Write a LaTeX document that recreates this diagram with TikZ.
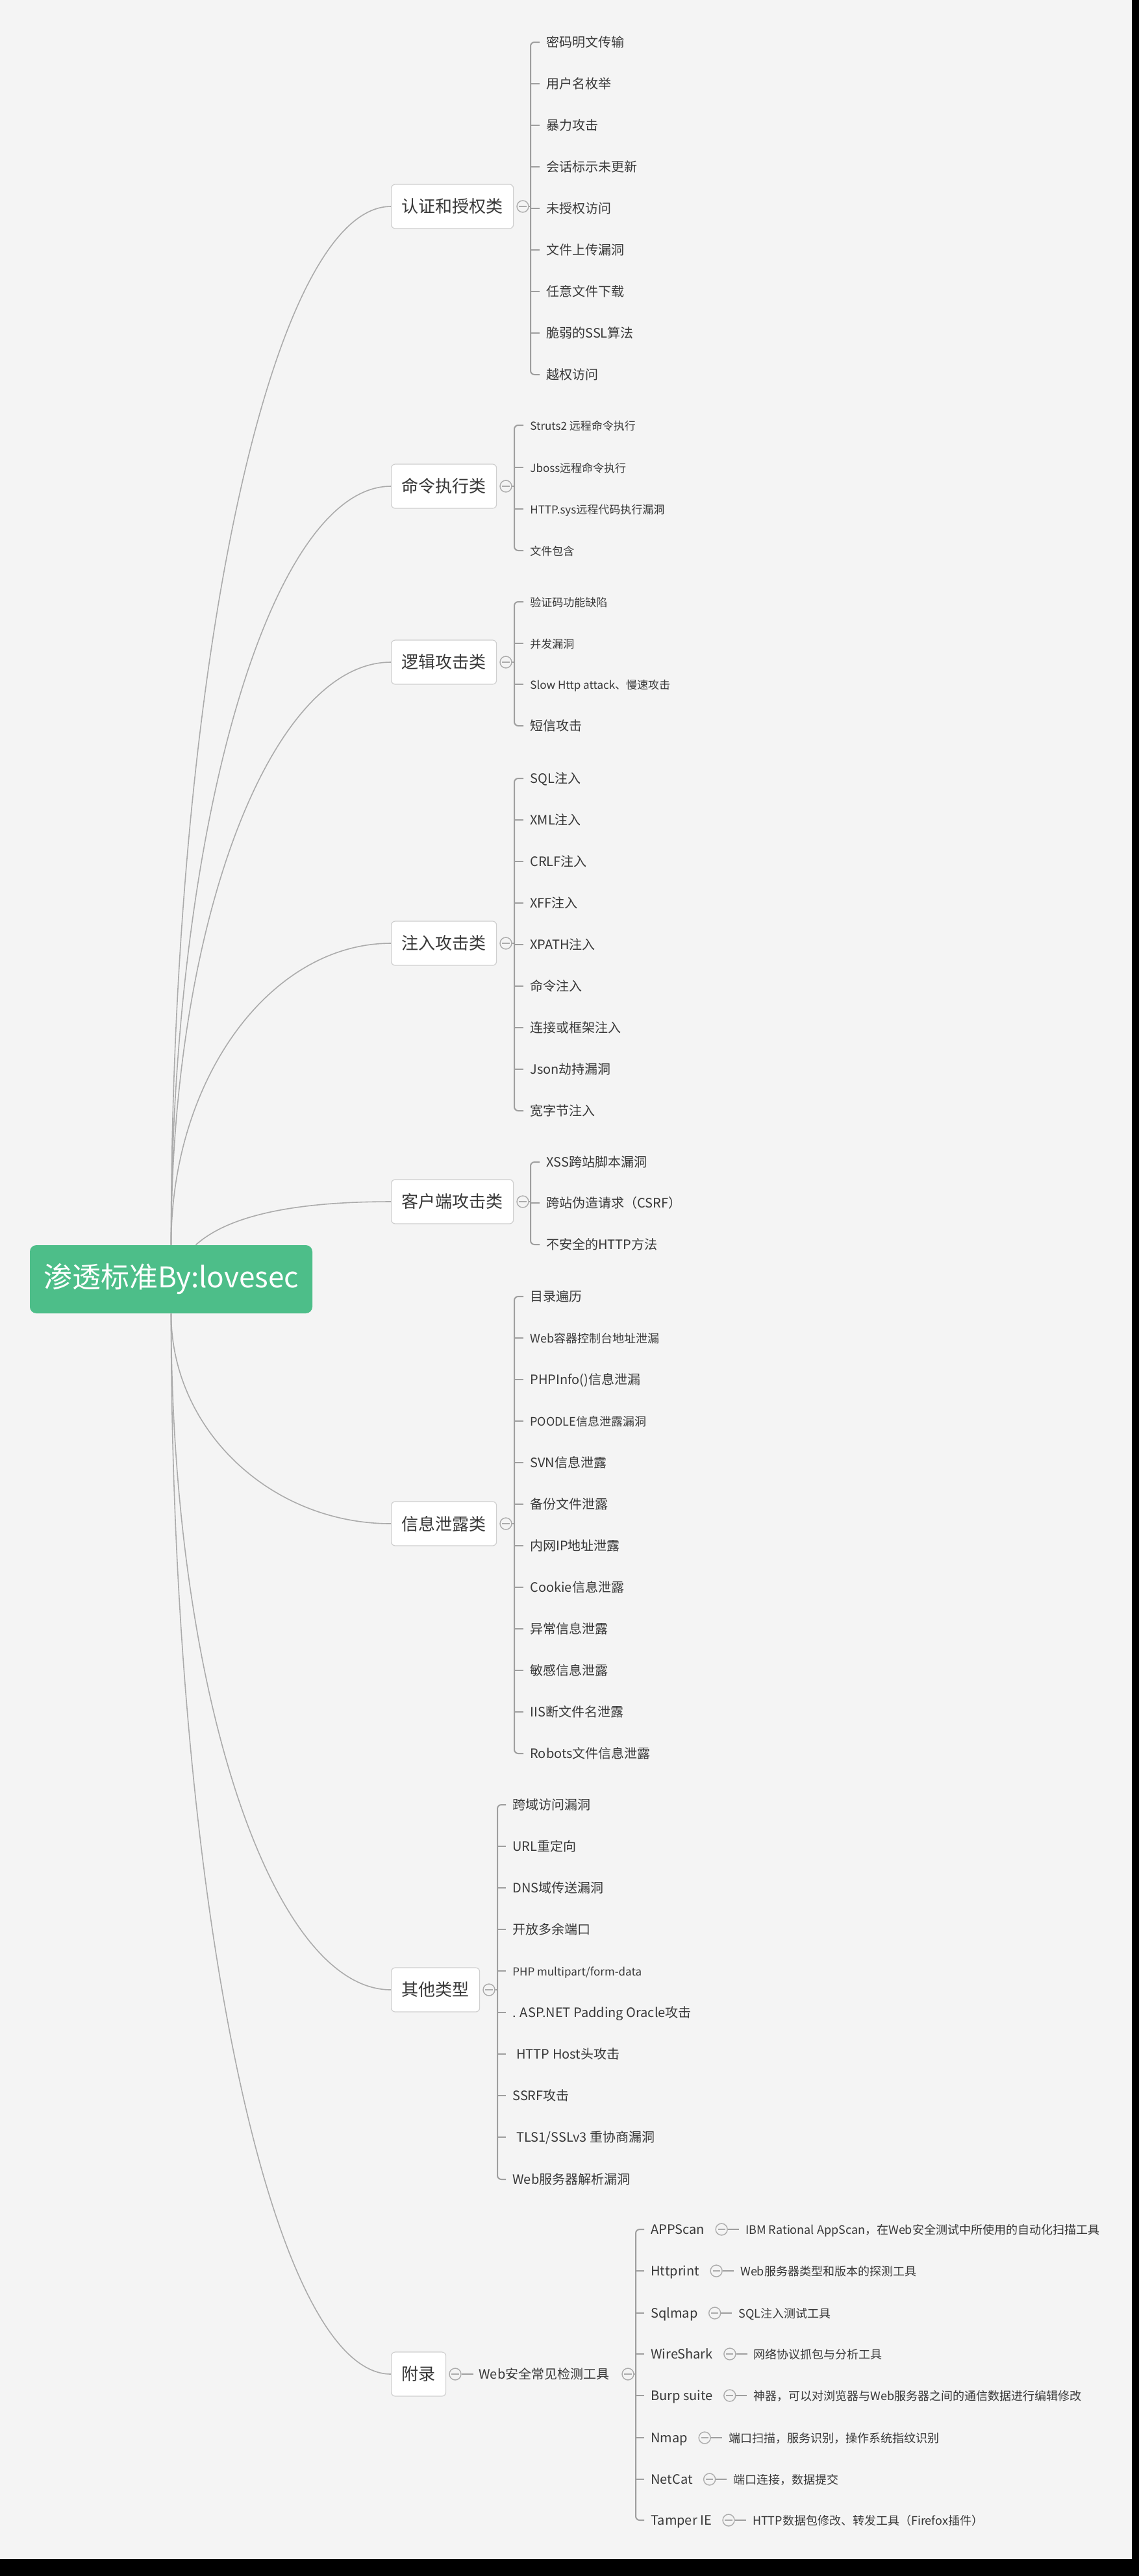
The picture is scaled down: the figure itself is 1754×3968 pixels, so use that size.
\documentclass[tikz,border=0pt]{standalone}
\usepackage{fontspec}
\newfontfamily\cjk{Noto Sans CJK SC}
\usetikzlibrary{positioning}

\definecolor{bggray}{HTML}{F4F4F4}
\definecolor{rootgreen}{HTML}{4DBE89}
\definecolor{linegray}{HTML}{ABABAB}
\definecolor{bargray}{HTML}{9E9E9E}
\definecolor{boxgray}{HTML}{CFCFCF}
\definecolor{textgray}{HTML}{383838}

\begin{document}
\begin{tikzpicture}[
    x=0.5pt, y=-0.5pt,
    rootbox/.style={rectangle, rounded corners=5pt, fill=rootgreen, text=white, minimum width=217.5pt, minimum height=52.5pt, font=\cjk\fontsize{22}{22}\selectfont},
    cat/.style={draw=boxgray, fill=white, rounded corners=3pt, line width=0.6pt, anchor=west, inner xsep=8pt, inner ysep=0pt, minimum height=34pt, text=textgray, font=\cjk\fontsize{13}{13}\selectfont},
    fold/.style={circle, draw=linegray, line width=0.7pt, minimum size=9pt, inner sep=0pt, path picture={\draw[linegray, line width=0.7pt] ([xshift=-2.8pt]path picture bounding box.center) -- ([xshift=2.8pt]path picture bounding box.center);}},
    leaf/.style={anchor=west, inner sep=0pt, text height=8.5pt, text depth=1pt, text=textgray, font=\cjk\fontsize{10}{10}\selectfont},
    smallleaf/.style={leaf, font=\cjk\fontsize{8.5}{8.5}\selectfont},
    midleaf/.style={leaf, font=\cjk\fontsize{9}{9}\selectfont},
    branch/.style={draw=linegray, line width=0.8pt},
    bracket/.style={draw=bargray, line width=1pt, rounded corners=3pt}
]

% Page
\useasboundingbox (0,0) rectangle (1754,3968);
\fill[black] (0,0) rectangle (1754,3968);
\fill[bggray] (0,0) rectangle (1743,3942);

% Root
\node[rootbox] (root) at (263.5,1970.5) {渗透标准By:lovesec};

% Categories
\node[cat] (auth) at (602,318) {认证和授权类};
\node[cat] (cmd) at (602,749) {命令执行类};
\node[cat] (logic) at (602,1020) {逻辑攻击类};
\node[cat] (inject) at (602,1453) {注入攻击类};
\node[cat] (client) at (602,1851) {客户端攻击类};
\node[cat] (leak) at (602,2347) {信息泄露类};
\node[cat] (other) at (602,3065) {其他类型};
\node[cat] (appendix) at (602,3657) {附录};

% Fold markers and bars
\node[fold] (authfold) at (805,318) {};
\node[fold] (cmdfold) at (779,749) {};
\node[fold] (logicfold) at (779,1020) {};
\node[fold] (injectfold) at (779,1453) {};
\node[fold] (clientfold) at (805,1851) {};
\node[fold] (leakfold) at (779,2347) {};
\node[fold] (otherfold) at (753,3065) {};
\node[fold] (appendixfold) at (701,3657) {};
\coordinate (authbar) at (817,318);
\coordinate (cmdbar) at (792,749);
\coordinate (logicbar) at (792,1020);
\coordinate (injectbar) at (792,1453);
\coordinate (clientbar) at (817,1851);
\coordinate (leakbar) at (792,2347);
\coordinate (otherbar) at (766,3065);

% Branches
\draw[branch] (root.north) .. controls +(0,-883) and +(-185,0) .. (auth.west);
\draw[branch] (root.north) .. controls +(0,-645) and +(-185,0) .. (cmd.west);
\draw[branch] (root.north) .. controls +(0,-496) and +(-185,0) .. (logic.west);
\draw[branch] (root.north) .. controls +(0,-257) and +(-185,0) .. (inject.west);
\draw[branch] ([xshift=19pt]root.north) .. controls +(50,-45) and +(-150,0) .. (client.west);
\draw[branch] (root.south) .. controls +(0,179) and +(-185,0) .. (leak.west);
\draw[branch] (root.south) .. controls +(0,575) and +(-185,0) .. (other.west);
\draw[branch] (root.south) .. controls +(0,902) and +(-185,0) .. (appendix.west);

% Authentication
\node[leaf] (auth1) at (841,65) {密码明文传输};
\node[leaf] (auth2) at (841,129) {用户名枚举};
\node[leaf] (auth3) at (841,193) {暴力攻击};
\node[leaf] (auth4) at (841,257) {会话标示未更新};
\node[leaf] (auth5) at (841,321) {未授权访问};
\node[leaf] (auth6) at (841,385) {文件上传漏洞};
\node[leaf] (auth7) at (841,449) {任意文件下载};
\node[leaf] (auth8) at (841,513) {脆弱的SSL算法};
\node[leaf] (auth9) at (841,577) {越权访问};
\draw[bracket] (authfold) -- (authbar);
\draw[bracket] ([xshift=-5pt]auth1.west) -| (authbar) |- ([xshift=-5pt]auth9.west);
\draw[bracket] (auth2.west -| authbar) -- ([xshift=-5pt]auth2.west)
    (auth3.west -| authbar) -- ([xshift=-5pt]auth3.west)
    (auth4.west -| authbar) -- ([xshift=-5pt]auth4.west)
    (auth5.west -| authbar) -- ([xshift=-5pt]auth5.west)
    (auth6.west -| authbar) -- ([xshift=-5pt]auth6.west)
    (auth7.west -| authbar) -- ([xshift=-5pt]auth7.west)
    (auth8.west -| authbar) -- ([xshift=-5pt]auth8.west);

% Command execution
\node[smallleaf] (cmd1) at (816,655) {Struts2 远程命令执行};
\node[smallleaf] (cmd2) at (816,720) {Jboss远程命令执行};
\node[smallleaf] (cmd3) at (816,784) {HTTP.sys远程代码执行漏洞};
\node[smallleaf] (cmd4) at (816,848) {文件包含};
\draw[bracket] (cmdfold) -- (cmdbar);
\draw[bracket] ([xshift=-5pt]cmd1.west) -| (cmdbar) |- ([xshift=-5pt]cmd4.west);
\draw[bracket] (cmd2.west -| cmdbar) -- ([xshift=-5pt]cmd2.west)
    (cmd3.west -| cmdbar) -- ([xshift=-5pt]cmd3.west);

% Logic attacks
\node[smallleaf] (logic1) at (816,927) {验证码功能缺陷};
\node[smallleaf] (logic2) at (816,991) {并发漏洞};
\node[smallleaf] (logic3) at (816,1054) {Slow Http attack、慢速攻击};
\node[leaf] (logic4) at (816,1118) {短信攻击};
\draw[bracket] (logicfold) -- (logicbar);
\draw[bracket] ([xshift=-5pt]logic1.west) -| (logicbar) |- ([xshift=-5pt]logic4.west);
\draw[bracket] (logic2.west -| logicbar) -- ([xshift=-5pt]logic2.west)
    (logic3.west -| logicbar) -- ([xshift=-5pt]logic3.west);

% Injection
\node[leaf] (inject1) at (816,1199) {SQL注入};
\node[leaf] (inject2) at (816,1263) {XML注入};
\node[leaf] (inject3) at (816,1327) {CRLF注入};
\node[leaf] (inject4) at (816,1391) {XFF注入};
\node[leaf] (inject5) at (816,1455) {XPATH注入};
\node[leaf] (inject6) at (816,1519) {命令注入};
\node[leaf] (inject7) at (816,1583) {连接或框架注入};
\node[leaf] (inject8) at (816,1647) {Json劫持漏洞};
\node[leaf] (inject9) at (816,1711) {宽字节注入};
\draw[bracket] (injectfold) -- (injectbar);
\draw[bracket] ([xshift=-5pt]inject1.west) -| (injectbar) |- ([xshift=-5pt]inject9.west);
\draw[bracket] (inject2.west -| injectbar) -- ([xshift=-5pt]inject2.west)
    (inject3.west -| injectbar) -- ([xshift=-5pt]inject3.west)
    (inject4.west -| injectbar) -- ([xshift=-5pt]inject4.west)
    (inject5.west -| injectbar) -- ([xshift=-5pt]inject5.west)
    (inject6.west -| injectbar) -- ([xshift=-5pt]inject6.west)
    (inject7.west -| injectbar) -- ([xshift=-5pt]inject7.west)
    (inject8.west -| injectbar) -- ([xshift=-5pt]inject8.west);

% Client side
\node[leaf] (client1) at (841,1790) {XSS跨站脚本漏洞};
\node[leaf] (client2) at (841,1853) {跨站伪造请求（CSRF）};
\node[leaf] (client3) at (841,1917) {不安全的HTTP方法};
\draw[bracket] (clientfold) -- (clientbar);
\draw[bracket] ([xshift=-5pt]client1.west) -| (clientbar) |- ([xshift=-5pt]client3.west);
\draw[bracket] (client2.west -| clientbar) -- ([xshift=-5pt]client2.west);

% Information leakage
\node[leaf] (leak1) at (816,1997) {目录遍历};
\node[midleaf] (leak2) at (816,2061) {Web容器控制台地址泄漏};
\node[leaf] (leak3) at (816,2125) {PHPInfo()信息泄漏};
\node[midleaf] (leak4) at (816,2189) {POODLE信息泄露漏洞};
\node[leaf] (leak5) at (816,2253) {SVN信息泄露};
\node[leaf] (leak6) at (816,2317) {备份文件泄露};
\node[leaf] (leak7) at (816,2381) {内网IP地址泄露};
\node[leaf] (leak8) at (816,2445) {Cookie信息泄露};
\node[leaf] (leak9) at (816,2509) {异常信息泄露};
\node[leaf] (leak10) at (816,2573) {敏感信息泄露};
\node[leaf] (leak11) at (816,2637) {IIS断文件名泄露};
\node[leaf] (leak12) at (816,2701) {Robots文件信息泄露};
\draw[bracket] (leakfold) -- (leakbar);
\draw[bracket] ([xshift=-5pt]leak1.west) -| (leakbar) |- ([xshift=-5pt]leak12.west);
\draw[bracket] (leak2.west -| leakbar) -- ([xshift=-5pt]leak2.west)
    (leak3.west -| leakbar) -- ([xshift=-5pt]leak3.west)
    (leak4.west -| leakbar) -- ([xshift=-5pt]leak4.west)
    (leak5.west -| leakbar) -- ([xshift=-5pt]leak5.west)
    (leak6.west -| leakbar) -- ([xshift=-5pt]leak6.west)
    (leak7.west -| leakbar) -- ([xshift=-5pt]leak7.west)
    (leak8.west -| leakbar) -- ([xshift=-5pt]leak8.west)
    (leak9.west -| leakbar) -- ([xshift=-5pt]leak9.west)
    (leak10.west -| leakbar) -- ([xshift=-5pt]leak10.west)
    (leak11.west -| leakbar) -- ([xshift=-5pt]leak11.west);

% Other types
\node[leaf] (other1) at (789,2780) {跨域访问漏洞};
\node[leaf] (other2) at (789,2844) {URL重定向};
\node[leaf] (other3) at (789,2908) {DNS域传送漏洞};
\node[leaf] (other4) at (789,2972) {开放多余端口};
\node[smallleaf] (other5) at (789,3036) {PHP multipart/form-data};
\node[leaf] (other6) at (789,3100) {. ASP.NET Padding Oracle攻击};
\node[leaf] (other7) at (789,3164) {\hspace{3pt}HTTP Host头攻击};
\node[leaf] (other8) at (789,3228) {SSRF攻击};
\node[leaf] (other9) at (789,3292) {\hspace{3pt}TLS1/SSLv3 重协商漏洞};
\node[leaf] (other10) at (789,3357) {Web服务器解析漏洞};
\draw[bracket] (otherfold) -- (otherbar);
\draw[bracket] ([xshift=-5pt]other1.west) -| (otherbar) |- ([xshift=-5pt]other10.west);
\draw[bracket] (other2.west -| otherbar) -- ([xshift=-5pt]other2.west)
    (other3.west -| otherbar) -- ([xshift=-5pt]other3.west)
    (other4.west -| otherbar) -- ([xshift=-5pt]other4.west)
    (other5.west -| otherbar) -- ([xshift=-5pt]other5.west)
    (other6.west -| otherbar) -- ([xshift=-5pt]other6.west)
    (other7.west -| otherbar) -- ([xshift=-5pt]other7.west)
    (other8.west -| otherbar) -- ([xshift=-5pt]other8.west)
    (other9.west -| otherbar) -- ([xshift=-5pt]other9.west);

% Appendix: tools
\node[leaf] (tools) at (737,3657) {Web安全常见检测工具};
\node[fold] (toolsfold) at (967,3657) {};
\coordinate (toolsbar) at (979,3657);
\draw[bracket] (appendixfold) -- ([xshift=-4pt]tools.west);
\draw[bracket] (toolsfold) -- (toolsbar);

\node[leaf] (appscan) at (1002,3434) {APPScan};
\node[leaf] (httprint) at (1002,3498) {Httprint};
\node[leaf] (sqlmap) at (1002,3563) {Sqlmap};
\node[leaf] (wireshark) at (1002,3626) {WireShark};
\node[leaf] (burp) at (1002,3690) {Burp suite};
\node[leaf] (nmap) at (1002,3755) {Nmap};
\node[leaf] (netcat) at (1002,3819) {NetCat};
\node[leaf] (tamper) at (1002,3882) {Tamper IE};
\draw[bracket] ([xshift=-5pt]appscan.west) -| (toolsbar) |- ([xshift=-5pt]tamper.west);
\draw[bracket] (httprint.west -| toolsbar) -- ([xshift=-5pt]httprint.west)
    (sqlmap.west -| toolsbar) -- ([xshift=-5pt]sqlmap.west)
    (wireshark.west -| toolsbar) -- ([xshift=-5pt]wireshark.west)
    (burp.west -| toolsbar) -- ([xshift=-5pt]burp.west)
    (nmap.west -| toolsbar) -- ([xshift=-5pt]nmap.west)
    (netcat.west -| toolsbar) -- ([xshift=-5pt]netcat.west);

\node[fold, right=8pt of appscan] (appscanfold) {};
\node[fold, right=8pt of httprint] (httprintfold) {};
\node[fold, right=8pt of sqlmap] (sqlmapfold) {};
\node[fold, right=8pt of wireshark] (wiresharkfold) {};
\node[fold, right=8pt of burp] (burpfold) {};
\node[fold, right=8pt of nmap] (nmapfold) {};
\node[fold, right=8pt of netcat] (netcatfold) {};
\node[fold, right=8pt of tamper] (tamperfold) {};

\node[midleaf, right=13.5pt of appscanfold] (appscandesc) {IBM Rational AppScan，在Web安全测试中所使用的自动化扫描工具};
\node[midleaf, right=13.5pt of httprintfold] (httprintdesc) {Web服务器类型和版本的探测工具};
\node[midleaf, right=13.5pt of sqlmapfold] (sqlmapdesc) {SQL注入测试工具};
\node[midleaf, right=13.5pt of wiresharkfold] (wiresharkdesc) {网络协议抓包与分析工具};
\node[midleaf, right=13.5pt of burpfold] (burpdesc) {神器，可以对浏览器与Web服务器之间的通信数据进行编辑修改};
\node[midleaf, right=13.5pt of nmapfold] (nmapdesc) {端口扫描，服务识别，操作系统指纹识别};
\node[midleaf, right=13.5pt of netcatfold] (netcatdesc) {端口连接，数据提交};
\node[midleaf, right=13.5pt of tamperfold] (tamperdesc) {HTTP数据包修改、转发工具（Firefox插件）};
\draw[bracket] (appscanfold) -- ([xshift=-5pt]appscandesc.west);
\draw[bracket] (httprintfold) -- ([xshift=-5pt]httprintdesc.west);
\draw[bracket] (sqlmapfold) -- ([xshift=-5pt]sqlmapdesc.west);
\draw[bracket] (wiresharkfold) -- ([xshift=-5pt]wiresharkdesc.west);
\draw[bracket] (burpfold) -- ([xshift=-5pt]burpdesc.west);
\draw[bracket] (nmapfold) -- ([xshift=-5pt]nmapdesc.west);
\draw[bracket] (netcatfold) -- ([xshift=-5pt]netcatdesc.west);
\draw[bracket] (tamperfold) -- ([xshift=-5pt]tamperdesc.west);

\end{tikzpicture}
\end{document}
